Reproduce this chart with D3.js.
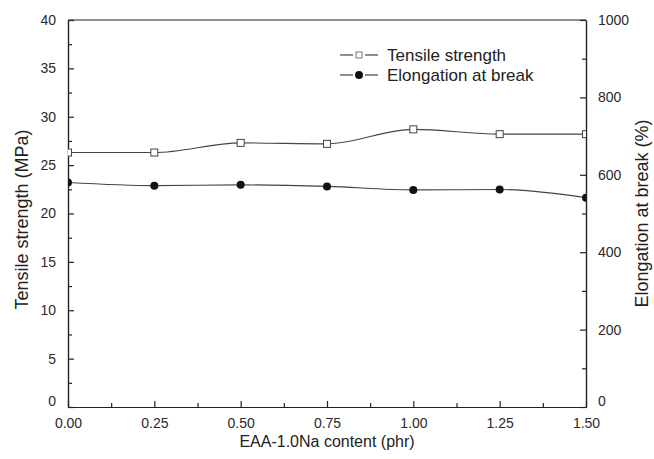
<!DOCTYPE html>
<html>
<head>
<meta charset="utf-8">
<script src="https://cdn.jsdelivr.net/npm/d3@7"></script>
<style>
  body { margin: 0; background: #fff; }
  svg { display: block; font-family: 'Liberation Sans', Arial, sans-serif; }
</style>
</head>
<body>
<div id="chart"></div>
<script>
// EAA-1.0Na content (phr)
var contents = [0, 0.25, 0.5, 0.75, 1.0, 1.25, 1.5]
// Tensile strength (MPa)
var tensile = [26.3, 26.3, 27.3, 27.2, 28.7, 28.2, 28.2]
// Elongation at break (%)
var elongation = [580, 572, 574, 570, 561, 562, 541]

var xTicks = [0, 0.25, 0.5, 0.75, 1.0, 1.25, 1.5]
var leftTicks = [0, 5, 10, 15, 20, 25, 30, 35, 40]
var rightTicks = [0, 200, 400, 600, 800, 1000]
var seriesNames = ['Tensile strength', 'Elongation at break']

var width = 654
var height = 459
var margin = { top: 20, right: 68, bottom: 52, left: 68 }
var ink = '#222'

var svg = d3.select('#chart').append('svg')
  .attr('width', width)
  .attr('height', height)

var x = d3.scaleLinear().domain([0, 1.5]).range([margin.left, width - margin.right])
var yL = d3.scaleLinear().domain([0, 40]).range([height - margin.bottom, margin.top])
var yR = d3.scaleLinear().domain([0, 1000]).range([height - margin.bottom, margin.top])

var plotW = x.range()[1] - x.range()[0]
var plotH = yL.range()[0] - yL.range()[1]

svg.append('clipPath').attr('id', 'plot-clip')
  .append('rect')
  .attr('x', margin.left).attr('y', margin.top)
  .attr('width', plotW).attr('height', plotH)

// axes - ticks point inward, minor ticks between majors
function styleAxis (g) {
  g.select('.domain').attr('stroke', ink).attr('stroke-width', 1.2)
  g.selectAll('.tick line').attr('stroke', ink).attr('stroke-width', 1.2)
  g.selectAll('.tick text').attr('fill', '#2a2a2a').style('font-size', '14px')
}

var xMinor = d3.range(0.125, 1.5, 0.25)
svg.append('g')
  .attr('transform', 'translate(0,' + yL(0) + ')')
  .call(d3.axisBottom(x).tickValues(xMinor).tickSize(-4).tickFormat('').tickSizeOuter(0))
  .call(styleAxis)
svg.append('g')
  .attr('transform', 'translate(0,' + yL(0) + ')')
  .call(d3.axisBottom(x).tickValues(xTicks).tickSize(-6).tickPadding(11).tickFormat(d3.format('.2f')).tickSizeOuter(0))
  .call(styleAxis)

var leftMinor = d3.range(2.5, 40, 5)
svg.append('g')
  .attr('transform', 'translate(' + x(0) + ',0)')
  .call(d3.axisLeft(yL).tickValues(leftMinor).tickSize(-4).tickFormat('').tickSizeOuter(0))
  .call(styleAxis)
var leftAxis = svg.append('g')
  .attr('transform', 'translate(' + x(0) + ',0)')
  .call(d3.axisLeft(yL).tickValues(leftTicks).tickSize(-6).tickPadding(12).tickSizeOuter(0))
  .call(styleAxis)

var rightMinor = d3.range(100, 1000, 200)
svg.append('g')
  .attr('transform', 'translate(' + x(1.5) + ',0)')
  .call(d3.axisRight(yR).tickValues(rightMinor).tickSize(-4).tickFormat('').tickSizeOuter(0))
  .call(styleAxis)
var rightAxis = svg.append('g')
  .attr('transform', 'translate(' + x(1.5) + ',0)')
  .call(d3.axisRight(yR).tickValues(rightTicks).tickSize(-6).tickPadding(12).tickFormat(d3.format('d')).tickSizeOuter(0))
  .call(styleAxis)

// the zero labels sit a bit higher so they clear the x labels
leftAxis.selectAll('.tick').filter(function (d) { return d === 0 }).select('text').attr('y', -6)
rightAxis.selectAll('.tick').filter(function (d) { return d === 0 }).select('text').attr('y', -6)

// top frame line
svg.append('line')
  .attr('x1', x(0)).attr('x2', x(1.5))
  .attr('y1', yL(40)).attr('y2', yL(40))
  .attr('stroke', ink).attr('stroke-width', 1.2)

// axis titles
svg.append('text')
  .attr('x', (x(0) + x(1.5)) / 2).attr('y', height - 12)
  .attr('text-anchor', 'middle').attr('fill', ink)
  .style('font-size', '16px')
  .text('EAA-1.0Na content (phr)')

svg.append('text')
  .attr('transform', 'translate(28,' + (margin.top + plotH / 2 + 6) + ') rotate(-90)')
  .attr('text-anchor', 'middle').attr('fill', ink)
  .style('font-size', '18px')
  .text('Tensile strength (MPa)')

svg.append('text')
  .attr('transform', 'translate(' + (width - 6) + ',' + (margin.top + plotH / 2) + ') rotate(-90)')
  .attr('text-anchor', 'middle').attr('fill', ink)
  .style('font-size', '18px')
  .text('Elongation at break (%)')

// series
var plot = svg.append('g').attr('clip-path', 'url(#plot-clip)')

var tensileLine = d3.line()
  .x(function (d, i) { return x(contents[i]) })
  .y(function (d) { return yL(d) })
  .curve(d3.curveMonotoneX)

var elongLine = d3.line()
  .x(function (d, i) { return x(contents[i]) })
  .y(function (d) { return yR(d) })
  .curve(d3.curveMonotoneX)

plot.append('path').datum(tensile)
  .attr('d', tensileLine)
  .attr('fill', 'none').attr('stroke', '#444').attr('stroke-width', 1.1)

plot.append('path').datum(elongation)
  .attr('d', elongLine)
  .attr('fill', 'none').attr('stroke', '#444').attr('stroke-width', 1.1)

var sq = 7
plot.selectAll('rect.ts').data(tensile).enter()
  .append('rect').classed('ts', true)
  .attr('x', function (d, i) { return x(contents[i]) - sq / 2 })
  .attr('y', function (d) { return yL(d) - sq / 2 })
  .attr('width', sq).attr('height', sq)
  .attr('fill', '#fff').attr('stroke', '#444').attr('stroke-width', 1)

plot.selectAll('circle.eb').data(elongation).enter()
  .append('circle').classed('eb', true)
  .attr('cx', function (d, i) { return x(contents[i]) })
  .attr('cy', function (d) { return yR(d) })
  .attr('r', 4)
  .attr('fill', '#111')

// legend
var legend = svg.append('g').attr('transform', 'translate(340,55)')
seriesNames.forEach(function (name, i) {
  var row = legend.append('g').attr('transform', 'translate(0,' + (i * 20) + ')')
  row.append('line')
    .attr('x1', 0).attr('x2', 13).attr('y1', 0).attr('y2', 0)
    .attr('stroke', '#333').attr('stroke-width', 1.1)
  row.append('line')
    .attr('x1', 25).attr('x2', 38).attr('y1', 0).attr('y2', 0)
    .attr('stroke', '#333').attr('stroke-width', 1.1)
  if (i === 0) {
    row.append('rect')
      .attr('x', 19 - 3).attr('y', -3).attr('width', 6).attr('height', 6)
      .attr('fill', '#fff').attr('stroke', '#555').attr('stroke-width', 0.8)
  } else {
    row.append('circle').attr('cx', 19).attr('cy', 0).attr('r', 4).attr('fill', '#111')
  }
  row.append('text')
    .attr('x', 47).attr('y', 6)
    .attr('fill', ink)
    .style('font-size', '17px')
    .text(name)
})
</script>
</body>
</html>
